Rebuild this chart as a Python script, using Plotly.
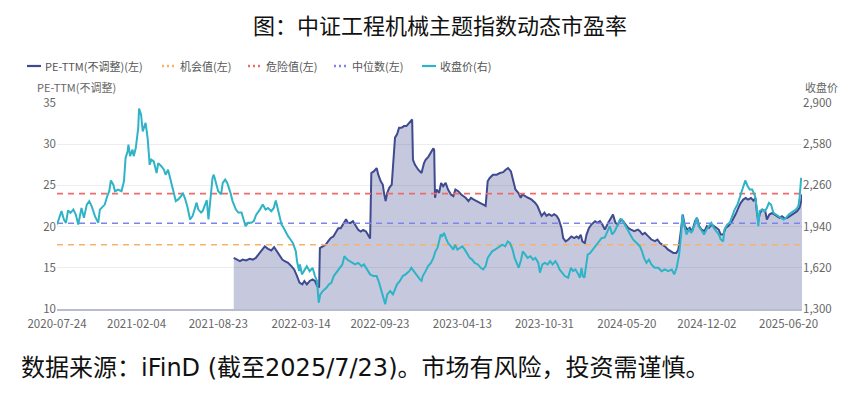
import plotly.graph_objects as go

# ---------------- data ----------------
close_dates = [
"2020-07-24","2020-07-31","2020-08-04","2020-08-10","2020-08-15","2020-08-20","2020-08-26","2020-09-02","2020-09-08","2020-09-14",
"2020-09-22","2020-09-28","2020-10-05","2020-10-11","2020-10-17","2020-10-25","2020-11-02","2020-11-06","2020-11-13","2020-11-18",
"2020-11-24","2020-11-29","2020-12-03","2020-12-09","2020-12-13","2020-12-21","2020-12-29","2021-01-04","2021-01-08","2021-01-13",
"2021-01-15","2021-01-19","2021-01-25","2021-01-28","2021-02-02","2021-02-05","2021-02-08","2021-02-10","2021-02-15","2021-02-19",
"2021-02-23","2021-02-26","2021-03-03","2021-03-08","2021-03-12","2021-03-18","2021-03-25","2021-03-29","2021-04-06","2021-04-12",
"2021-04-16","2021-04-22","2021-04-28","2021-05-06","2021-05-11","2021-05-17","2021-05-24","2021-05-28","2021-06-02","2021-06-08",
"2021-06-15","2021-06-21","2021-06-28","2021-07-01","2021-07-05","2021-07-12","2021-07-16","2021-07-21","2021-07-26","2021-07-30",
"2021-08-04","2021-08-09","2021-08-12","2021-08-17","2021-08-23","2021-08-30","2021-09-03","2021-09-09","2021-09-14","2021-09-22",
"2021-09-27","2021-10-05","2021-10-11","2021-10-19","2021-10-25","2021-10-29","2021-11-04","2021-11-12","2021-11-18","2021-11-24",
"2021-12-03","2021-12-10","2021-12-17","2021-12-23","2021-12-31","2022-01-06","2022-01-11","2022-01-17","2022-01-21","2022-01-25",
"2022-01-28","2022-02-05","2022-02-10","2022-02-16","2022-02-22","2022-03-01","2022-03-04","2022-03-09","2022-03-11","2022-03-16",
"2022-03-22","2022-03-28","2022-04-04","2022-04-11","2022-04-17","2022-04-22","2022-04-26","2022-04-30","2022-05-06","2022-05-15",
"2022-05-21","2022-05-27","2022-06-02","2022-06-08","2022-06-16","2022-06-23","2022-06-28","2022-07-05","2022-07-11","2022-07-18",
"2022-07-24","2022-08-01","2022-08-09","2022-08-15","2022-08-22","2022-08-30","2022-09-07","2022-09-15","2022-09-21","2022-09-27",
"2022-10-03","2022-10-06","2022-10-11","2022-10-18","2022-10-25","2022-10-31","2022-11-04","2022-11-11","2022-11-18","2022-11-25",
"2022-12-04","2022-12-09","2022-12-15","2022-12-22","2022-12-30","2023-01-03","2023-01-06","2023-01-13","2023-01-19","2023-01-26",
"2023-02-01","2023-02-06","2023-02-11","2023-02-14","2023-02-19","2023-02-23","2023-02-27","2023-03-05","2023-03-09","2023-03-16",
"2023-03-22","2023-03-26","2023-04-01","2023-04-07","2023-04-13","2023-04-19","2023-04-26","2023-05-01","2023-05-07","2023-05-13",
"2023-05-21","2023-05-28","2023-06-03","2023-06-09","2023-06-14","2023-06-20","2023-06-25","2023-07-02","2023-07-08","2023-07-14",
"2023-07-20","2023-07-27","2023-08-02","2023-08-08","2023-08-14","2023-08-19","2023-08-25","2023-08-29","2023-09-04","2023-09-08",
"2023-09-14","2023-09-20","2023-09-27","2023-10-03","2023-10-09","2023-10-16","2023-10-20","2023-10-26","2023-11-01","2023-11-08",
"2023-11-14","2023-11-20","2023-11-27","2023-12-02","2023-12-07","2023-12-13","2023-12-20","2023-12-28","2024-01-04","2024-01-09",
"2024-01-15","2024-01-22","2024-01-26","2024-01-30","2024-02-02","2024-02-06","2024-02-10","2024-02-14","2024-02-20","2024-02-26",
"2024-03-04","2024-03-11","2024-03-19","2024-03-27","2024-04-02","2024-04-08","2024-04-14","2024-04-20","2024-04-26","2024-05-03",
"2024-05-08","2024-05-15","2024-05-21","2024-05-27","2024-06-04","2024-06-13","2024-06-21","2024-06-26","2024-07-01","2024-07-07",
"2024-07-13","2024-07-19","2024-07-27","2024-08-05","2024-08-13","2024-08-21","2024-08-29","2024-09-07","2024-09-13","2024-09-19",
"2024-09-25","2024-09-30","2024-10-03","2024-10-07","2024-10-13","2024-10-19","2024-10-25","2024-11-01","2024-11-07","2024-11-12",
"2024-11-19","2024-11-25","2024-12-01","2024-12-07","2024-12-13","2024-12-19","2024-12-25","2024-12-31","2025-01-05","2025-01-11",
"2025-01-14","2025-01-21","2025-01-27","2025-02-02","2025-02-08","2025-02-15","2025-02-21","2025-02-25","2025-03-02","2025-03-06",
"2025-03-12","2025-03-17","2025-03-23","2025-03-30","2025-04-03","2025-04-07","2025-04-10","2025-04-16","2025-04-23","2025-04-28",
"2025-05-03","2025-05-08","2025-05-14","2025-05-20","2025-05-26","2025-06-02","2025-06-08","2025-06-14","2025-06-20","2025-06-26",
"2025-07-02","2025-07-08","2025-07-14","2025-07-17","2025-07-21","2025-07-23"]
close_values = [
1956,2021,2060,1995,1969,2065,2047,2072,2033,1956,
2085,2008,2111,2137,2098,2021,1969,2072,2098,2111,
2176,2215,2298,2266,2215,2228,2215,2292,2473,2525,
2577,2487,2538,2487,2551,2629,2706,2856,2810,2680,
2719,2746,2629,2420,2460,2446,2356,2433,2407,2382,
2343,2382,2305,2190,2138,2151,2177,2202,2164,2100,
1995,2021,2100,2126,2074,2049,2062,2100,2145,1995,
2190,2318,2343,2279,2215,2190,2279,2305,2279,2202,
2138,2074,2049,2049,1995,1943,1969,1969,1982,2033,
2072,2111,2072,2085,2060,2085,2142,2060,2008,1956,
1943,1891,1866,1840,1812,1748,1671,1594,1646,1569,
1607,1633,1594,1620,1556,1518,1349,1413,1439,1465,
1491,1504,1556,1582,1620,1646,1710,1684,1671,1658,
1646,1658,1633,1646,1607,1569,1556,1556,1505,1439,
1390,1338,1413,1439,1413,1465,1492,1518,1556,1569,
1594,1620,1594,1556,1530,1518,1556,1594,1633,1658,
1697,1748,1774,1812,1879,1866,1891,1840,1812,1786,
1761,1799,1761,1774,1786,1761,1722,1697,1684,1658,
1646,1620,1607,1633,1697,1722,1748,1761,1774,1786,
1799,1786,1825,1812,1761,1697,1646,1620,1684,1748,
1722,1697,1710,1684,1697,1658,1582,1646,1658,1646,
1671,1646,1671,1646,1607,1582,1556,1543,1620,1594,
1607,1569,1543,1620,1556,1543,1646,1722,1735,1761,
1786,1812,1850,1856,1902,1943,1879,1902,1943,1995,
1995,1956,1917,1879,1840,1812,1786,1748,1697,1658,
1684,1646,1620,1620,1594,1607,1594,1607,1569,1620,
1722,1879,2033,1956,1879,1917,1891,1943,2008,1943,
1904,1879,1917,1943,1969,1930,1904,1879,1840,1825,
1917,1956,1969,2021,2072,2111,2176,2215,2266,2298,
2254,2228,2228,2177,2085,1943,2060,2072,2060,2085,
2124,2111,2047,2033,2021,2008,1995,2008,2033,2047,
2060,2072,2098,2163,2318,2290]

pe_dates = [
"2021-09-30","2021-10-07","2021-10-15","2021-10-22","2021-10-30","2021-11-08","2021-11-16","2021-11-23","2021-11-29","2021-12-07",
"2021-12-15","2021-12-23","2021-12-31","2022-01-07","2022-01-14","2022-01-20","2022-01-27","2022-02-02","2022-02-10","2022-02-18",
"2022-02-25","2022-03-04","2022-03-10","2022-03-17","2022-03-22","2022-03-28","2022-04-04","2022-04-11","2022-04-17","2022-04-22",
"2022-04-27","2022-04-29","2022-05-06","2022-05-13","2022-05-19","2022-05-25","2022-06-01","2022-06-08","2022-06-13","2022-06-19",
"2022-06-26","2022-07-02","2022-07-07","2022-07-13","2022-07-19","2022-07-26","2022-08-01","2022-08-07","2022-08-13","2022-08-20",
"2022-08-25","2022-08-30","2022-09-02","2022-09-08","2022-09-15","2022-09-19","2022-09-25","2022-09-30","2022-10-03","2022-10-07",
"2022-10-11","2022-10-16","2022-10-22","2022-10-26","2022-10-30","2022-11-04","2022-11-09","2022-11-15","2022-11-21","2022-11-27",
"2022-12-03","2022-12-08","2022-12-11","2022-12-13","2022-12-18","2022-12-26","2023-01-03","2023-01-09","2023-01-13","2023-01-20",
"2023-01-27","2023-02-01","2023-02-03","2023-02-05","2023-02-09","2023-02-15","2023-02-20","2023-02-25","2023-03-03","2023-03-09",
"2023-03-16","2023-03-22","2023-03-27","2023-04-03","2023-04-10","2023-04-15","2023-04-21","2023-04-28","2023-05-04","2023-05-10",
"2023-05-18","2023-05-26","2023-06-03","2023-06-09","2023-06-14","2023-06-19","2023-06-27","2023-07-06","2023-07-14","2023-07-22",
"2023-07-28","2023-08-03","2023-08-10","2023-08-16","2023-08-21","2023-08-28","2023-09-03","2023-09-07","2023-09-13","2023-09-21",
"2023-09-29","2023-10-08","2023-10-14","2023-10-20","2023-10-24","2023-10-31","2023-11-05","2023-11-11","2023-11-18","2023-11-24",
"2023-11-30","2023-12-05","2023-12-12","2023-12-16","2023-12-22","2023-12-28","2024-01-05","2024-01-12","2024-01-18","2024-01-23",
"2024-01-28","2024-02-01","2024-02-07","2024-02-11","2024-02-17","2024-02-23","2024-03-03","2024-03-09","2024-03-15","2024-03-21",
"2024-03-27","2024-04-04","2024-04-10","2024-04-16","2024-04-22","2024-04-28","2024-05-05","2024-05-11","2024-05-17","2024-05-23",
"2024-05-30","2024-06-07","2024-06-16","2024-06-21","2024-06-27","2024-07-03","2024-07-11","2024-07-19","2024-07-28","2024-08-03",
"2024-08-09","2024-08-15","2024-08-21","2024-08-29","2024-09-05","2024-09-11","2024-09-18","2024-09-23","2024-09-27","2024-10-01",
"2024-10-04","2024-10-09","2024-10-15","2024-10-21","2024-10-27","2024-11-03","2024-11-08","2024-11-13","2024-11-19","2024-11-26",
"2024-12-02","2024-12-07","2024-12-14","2024-12-20","2024-12-26","2024-12-31","2025-01-05","2025-01-11","2025-01-17","2025-01-23",
"2025-01-30","2025-02-04","2025-02-10","2025-02-17","2025-02-23","2025-03-01","2025-03-07","2025-03-13","2025-03-20","2025-03-26",
"2025-03-31","2025-04-04","2025-04-07","2025-04-11","2025-04-17","2025-04-24","2025-04-28","2025-05-04","2025-05-11","2025-05-17",
"2025-05-23","2025-05-29","2025-06-04","2025-06-11","2025-06-17","2025-06-22","2025-06-29","2025-07-05","2025-07-11","2025-07-17",
"2025-07-21","2025-07-23"]
pe_values = [
16.2,16.0,15.8,16.0,15.9,16.1,16.0,16.2,16.6,17.2,
17.6,17.3,17.1,17.5,17.0,16.6,16.0,15.8,15.6,15.2,
14.8,14.0,13.2,13.0,13.4,13.0,13.4,13.6,13.4,12.8,
12.6,17.4,17.6,17.8,18.2,18.6,18.8,19.4,19.8,19.8,
20.45,20.9,20.45,20.45,20.66,20.05,19.6,19.4,19.6,19.4,
19.04,18.55,26.5,26.7,27.1,26.3,25.5,25.1,24.1,23.1,
24.1,24.7,25.1,28.3,30.8,31.2,32.0,32.0,32.2,32.2,
32.6,32.9,33.0,28.1,27.5,26.9,26.5,27.7,28.1,28.5,
29.1,29.5,29.3,23.5,24.5,24.1,25.3,24.9,25.3,24.5,
23.9,23.7,24.5,24.3,23.9,23.7,23.5,23.1,23.5,23.3,
23.1,22.9,22.7,22.5,25.5,25.9,26.3,26.3,26.5,26.6,
26.9,27.1,26.7,25.3,24.5,24.1,23.5,23.9,23.7,23.5,
23.3,22.9,22.5,21.9,21.3,21.7,21.3,21.5,21.3,21.5,
21.3,20.9,19.8,18.6,18.2,18.4,18.8,18.6,18.8,18.6,
19.0,18.2,18.0,19.0,19.8,20.25,20.66,20.45,20.66,20.25,
19.64,20.45,21.06,21.46,20.45,20.25,20.86,20.66,20.25,19.84,
19.64,19.44,19.64,19.44,19.04,19.24,18.84,18.43,18.23,18.43,
18.0,17.8,17.6,17.2,17.0,16.8,16.8,17.2,18.6,20.66,
21.46,20.05,19.64,19.84,19.44,20.66,21.06,20.05,19.64,19.44,
20.05,19.84,20.25,20.05,19.84,19.64,19.04,19.04,19.84,20.05,
20.45,20.86,21.46,22.27,22.88,23.28,23.48,23.28,23.48,23.15,
23.48,21.46,20.66,21.67,22.07,21.87,20.86,21.46,21.67,21.46,
21.26,21.06,21.26,20.98,21.06,21.26,21.46,21.67,21.87,22.27,
23.08,23.9]

opportunity_value = 17.8   # 机会值
danger_value = 24.0        # 危险值
median_value = 20.4        # 中位数

span_dates = ["2020-07-24", "2025-07-23"]
tick_dates = ["2020-07-24","2021-02-04","2021-08-23","2022-03-14","2022-09-23",
              "2023-04-13","2023-10-31","2024-05-20","2024-12-02","2025-06-20"]
left_ticks = [10, 15, 20, 25, 30, 35]
right_ticks = [1300, 1620, 1940, 2260, 2580, 2900]

NAVY = "#3f4a8f"
CYAN = "#2fb3c6"
ORANGE = "#f7b26b"
RED = "#ef6b6b"
BLUE = "#7f84ea"
FONT = "Noto Sans CJK SC"

# page is rendered inside a body with an 8px margin
W, H = 855, 388
ML, MR, MT, MB = 49, 61, 95, 87
PW, PH = W - ML - MR, H - MT - MB   # 745 x 206


def px(page_x):
    return (page_x - 8 - ML) / PW


def py(page_y):
    return (H - MB - (page_y - 8)) / PH


fig = go.Figure()
fig.add_trace(go.Scatter(
    x=pe_dates, y=pe_values, name="PE-TTM(不调整)(左)", mode="lines",
    line=dict(color=NAVY, width=2), fill="tozeroy",
    fillcolor="rgba(70,80,150,0.31)", yaxis="y", showlegend=False))
for nm, val, col in [("机会值(左)", opportunity_value, ORANGE),
                     ("危险值(左)", danger_value, RED),
                     ("中位数(左)", median_value, BLUE)]:
    fig.add_trace(go.Scatter(
        x=span_dates, y=[val, val], name=nm, mode="lines", showlegend=False,
        line=dict(color=col, width=1.6, dash="6px,5px"), yaxis="y"))
fig.add_trace(go.Scatter(
    x=close_dates, y=close_values, name="收盘价(右)", mode="lines",
    line=dict(color=CYAN, width=2), yaxis="y2", showlegend=False))

# ----- legend drawn as shapes + text (compact, like the original) -----
legend_items = [("PE-TTM(不调整)(左)", NAVY, "solid", 27),
                ("机会值(左)", ORANGE, "dot", 162),
                ("危险值(左)", RED, "dot", 248),
                ("中位数(左)", BLUE, "dot", 334),
                ("收盘价(右)", CYAN, "solid", 422)]
shapes = []
annotations = []
LEG_Y = 66
for text, col, style, x0 in legend_items:
    shapes.append(dict(type="line", xref="paper", yref="paper",
                       x0=px(x0), x1=px(x0 + 14), y0=py(LEG_Y), y1=py(LEG_Y),
                       line=dict(color=col, width=2.5 if style == "dot" else 2.2,
                                 dash="2px,3px" if style == "dot" else "solid")))
    annotations.append(dict(text=text, xref="paper", yref="paper", x=px(x0 + 16), y=py(LEG_Y),
                            xanchor="left", yanchor="middle", showarrow=False,
                            font=dict(size=11, color="#555555")))

annotations += [
    dict(text="PE-TTM(不调整)", xref="paper", yref="paper", x=px(35), y=py(87),
         xanchor="left", yanchor="middle", showarrow=False,
         font=dict(size=11, color="#666666")),
    dict(text="收盘价", xref="paper", yref="paper", x=px(803), y=py(87),
         xanchor="left", yanchor="middle", showarrow=False,
         font=dict(size=11, color="#666666")),
    dict(text="数据来源：iFinD (截至2025/7/23)。市场有风险，投资需谨慎。",
         xref="paper", yref="paper", x=px(19), y=py(368),
         xanchor="left", yanchor="middle", showarrow=False,
         font=dict(family="DejaVu Sans, Noto Sans CJK SC", size=24, color="#111111")),
]

fig.update_layout(
    width=W, height=H,
    margin=dict(l=ML, r=MR, t=MT, b=MB),
    paper_bgcolor="white", plot_bgcolor="white",
    font=dict(family=FONT, size=11, color="#666666"),
    title=dict(text="图：中证工程机械主题指数动态市盈率", x=(440 - 8) / W, xanchor="center",
               y=1 - (26 - 8) / H, yanchor="middle",
               font=dict(family=FONT, size=22, color="#111111")),
    showlegend=False,
    xaxis=dict(type="date", range=span_dates, tickvals=tick_dates, ticktext=tick_dates,
               showgrid=False, showline=True, linecolor="#b9bccf", linewidth=1.5,
               ticks="", ticklabelstandoff=3,
               tickfont=dict(size=11.5, color="#666666"), zeroline=False),
    yaxis=dict(range=[10, 35], tickvals=left_ticks, showgrid=True, gridcolor="#ededed",
               zeroline=False, showline=False, ticks="",
               tickfont=dict(size=11.5, color="#666666")),
    yaxis2=dict(range=[1300, 2900], tickvals=right_ticks, tickformat=",", overlaying="y",
                side="right", showgrid=False, zeroline=False, showline=False, ticks="",
                tickfont=dict(size=11.5, color="#666666")),
    shapes=shapes,
    annotations=annotations,
)

fig.write_html("out.html")
